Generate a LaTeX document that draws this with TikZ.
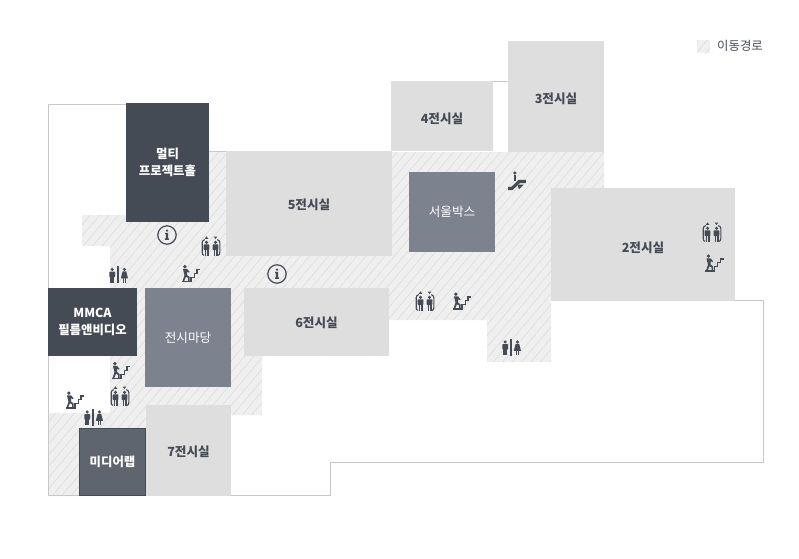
\documentclass[tikz,border=0pt]{standalone}
\usepackage{fontspec}
\usetikzlibrary{patterns.meta}
\newfontfamily\krfont{Noto Sans CJK KR}
\newcommand{\hallname}[2]{\raisebox{-#1pt}[\height][\depth]{#2}}
\definecolor{roomgray}{HTML}{DEDEDE}
\definecolor{darkslate}{HTML}{454B55}
\definecolor{midslate}{HTML}{7C828E}
\definecolor{labslate}{HTML}{5F656F}
\definecolor{floorgray}{HTML}{EFEFEF}
\definecolor{hatchgray}{HTML}{D8D8D8}
\definecolor{outlinegray}{HTML}{C8C8C8}
\tikzset{
    hatchfloor/.style = {preaction = {fill = floorgray},
        pattern = {Lines[angle = 50, distance = 7.2pt, line width = 0.45pt]}, pattern color = hatchgray},
    room/.style = {fill = roomgray, text = darkslate, inner sep = 0pt, align = center,
        font = \krfont\fontsize{12.6}{17}\selectfont\bfseries},
    darkroom/.style = {room, fill = darkslate, text = white, font = \krfont\fontsize{12.4}{17}\selectfont\bfseries},
    midroom/.style = {room, fill = midslate, text = white, font = \krfont\fontsize{12.6}{17}\selectfont},
    person/.pic = {
        \fill (0, -5.9) circle (1.7pt);
        \fill[rounded corners = 0.7pt] (-2.9, -3.8) rectangle (2.9, 1.8);
        \fill (-2, 1) rectangle (-0.2, 7.5);
        \fill (0.2, 1) rectangle (2, 7.5);
    },
    woman/.pic = {
        \fill (0, -5.9) circle (1.7pt);
        \fill (-1.8, -3.9) -- (1.8, -3.9) -- (3.6, 3) -- (-3.6, 3) -- cycle;
        \fill (-1.7, 2) rectangle (-0.2, 7.5);
        \fill (0.2, 2) rectangle (1.7, 7.5);
    },
    toilet/.pic = {
        \pic at (-5.8, 0.8) {person};
        \pic at (6.4, 0.8) {woman};
        \fill (-0.6, -8.4) rectangle (0.6, 8.6);
    },
    lift/.pic = {
        \pic at (-4.5, 2.2) {person};
        \pic at (4.5, 2.2) {person};
        \draw[line width = 1.1pt] (-6.2, -6.3) to[out = 180, in = 90] (-8.8, -3.5) -- (-8.8, 6.5) to[out = -90, in = 180] (-7, 9.4);
        \draw[line width = 1.1pt] (6.2, -6.3) to[out = 0, in = 90] (8.8, -3.5) -- (8.8, 6.5) to[out = -90, in = 0] (7, 9.4);
        \fill (-4.5, -9.6) -- (-2.7, -7.2) -- (-6.3, -7.2) -- cycle;
        \fill (4.5, -7) -- (2.7, -9.4) -- (6.3, -9.4) -- cycle;
    },
    stairs/.pic = {
        \fill (-5.6, -7.4) circle (1.8pt);
        \fill (-7.6, -5.2) -- (-3.6, -5.2) -- (-1, -2.4) -- (-1.6, -1.3) -- (-3.4, -2.4) -- (-3.4, 1) -- (-0.9, 3) -- (-0.9, 7) -- (-2.5, 7) -- (-2.5, 3.8) -- (-4.6, 2.8) -- (-6.3, 7) -- (-8, 7) -- (-6, 1) -- cycle;
        \draw[line width = 1.3pt] (-9, 7.6) -- (1.2, 7.6) (0.6, 7.6) -- (0.6, 3.2) -- (3.8, 3.2) -- (3.8, -0.8) -- (6.4, -0.8) -- (6.4, -4.6) -- (9.6, -4.6);
    },
    escalator/.pic = {
        \fill (-2.1, -9) circle (1.7pt);
        \fill (-3.5, -7) rectangle (-0.7, -1);
        \fill (-8.8, 8) -- (-8.8, 4.8) -- (-5.6, 4.8) -- (1.6, -2.2) -- (8.8, -2.2) -- (8.8, 1) -- (3, 1) -- (-4.4, 8) -- cycle;
        \fill (0.5, 2.6) -- (6.8, 2.6) -- (2, 7.4) -- cycle;
    },
    infosign/.pic = {
        \draw[line width = 1.2pt] (0, 0) circle (9.2pt);
        \fill (0, -4.4) circle (1.3pt);
        \fill (-1.8, -2.1) -- (1.1, -2.1) -- (1.1, 3.4) -- (1.9, 3.4) -- (1.9, 4.8) -- (-1.9, 4.8) -- (-1.9, 3.4) -- (-1.1, 3.4) -- (-1.1, -0.8) -- (-1.8, -0.8) -- cycle;
    },
}
\begin{document}
\begin{tikzpicture}[x = 1pt, y = -1pt]
    \useasboundingbox (0, 0) rectangle (799, 558);

    \coordinate (wallstart) at (126, 104);
    \coordinate (walltl) at (48.5, 104);
    \coordinate (wallbl) at (48.5, 495.5);
    \coordinate (wallb) at (330.5, 495.5);
    \coordinate (wallstep) at (330.5, 462);
    \coordinate (wallbr) at (763, 462);
    \coordinate (walltr) at (763, 300.5);
    \coordinate (wallend) at (735, 300.5);

    % walkway first, rooms sit on top of it
    \fill [hatchfloor] (82, 215) -- (126, 215) -- (126, 152) -- (604, 152) -- (604, 188) -- (551, 188) -- (551, 362)
        -- (487, 362) -- (487, 320) -- (389, 320) -- (389, 356) -- (262, 356) -- (262, 415) -- (146, 415)
        -- (146, 496) -- (48, 496) -- (48, 413) -- (110, 413) -- (110, 246) -- (82, 246) -- cycle;

    \draw [outlinegray] (wallstart) -- (walltl) -- (wallbl) -- (wallb) -- (wallstep) -- (wallbr) -- (walltr) -- (wallend);
    \draw [outlinegray] (209, 151.5) -- (226, 151.5);
    \draw [outlinegray] (493, 81.5) -- (508, 81.5);

    \node [room, minimum width = 96, minimum height = 111] (hall3) at (556, 96.5) {\hallname{2}{3전시실}};
    \node [room, minimum width = 102, minimum height = 70] (hall4) at (442, 116) {\hallname{3}{4전시실}};
    \node [room, minimum width = 166, minimum height = 105] (hall5) at (309, 203.5) {\hallname{1}{5전시실}};
    \node [room, minimum width = 145, minimum height = 68] (hall6) at (316.5, 322) {\hallname{1}{6전시실}};
    \node [room, minimum width = 85, minimum height = 91] (hall7) at (188.5, 450.5) {\hallname{1}{7전시실}};
    \node [room, minimum width = 184, minimum height = 113] (hall2) at (643, 244.5) {\hallname{3}{2전시실}};

    \node [midroom, minimum width = 86, minimum height = 80] (seoulbox) at (452, 212) {서울박스};
    \node [midroom, minimum width = 86, minimum height = 99] (madang) at (188, 337.5) {전시마당};
    \node [darkroom, minimum width = 83, minimum height = 119] (multi) at (167.5, 162.5) {멀티\\프로젝트홀};
    \node [darkroom, minimum width = 89, minimum height = 68] (mmca) at (92.5, 322) {MMCA\\필름앤비디오};
    \node [darkroom, draw = darkslate, fill = labslate, minimum width = 66, minimum height = 67] (medialab) at (112.5, 462) {미디어랩};

    \begin{scope}[darkslate]
        \pic at (167, 235) {infosign};
        \pic at (277, 274) {infosign};
        \pic at (211, 246) {lift};
        \pic at (120, 396) {lift};
        \pic at (425, 301) {lift};
        \pic at (712, 232) {lift};
        \pic at (190.5, 274) {stairs};
        \pic at (120.5, 371) {stairs};
        \pic at (74.5, 400.5) {stairs};
        \pic at (461.5, 301.5) {stairs};
        \pic at (714, 263.5) {stairs};
        \pic at (118, 274.5) {toilet};
        \pic at (93, 417) {toilet};
        \pic at (511, 347) {toilet};
        \pic at (517, 182) {escalator};
    \end{scope}

    \fill [hatchfloor] (697, 40) rectangle (710, 53);
    \node [text = darkslate, inner sep = 0pt, font = \krfont\fontsize{12.4}{14}\selectfont] (legendtext) at (740, 46) {이동경로};
\end{tikzpicture}
\end{document}
